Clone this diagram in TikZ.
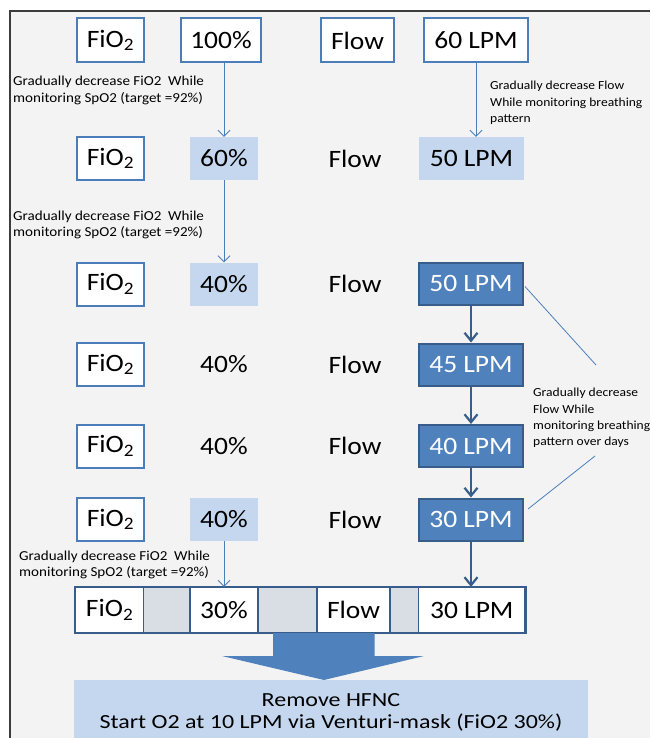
\documentclass[tikz,border=0pt]{standalone}
\usepackage{fontspec}
\setmainfont{Carlito}[FakeStretch=1.1]
\newfontfamily\widefont{Carlito}[FakeStretch=1.2]
\usetikzlibrary{arrows.meta}

\definecolor{boxblue}{HTML}{4A7EBB}
\definecolor{darkblue}{HTML}{385D8A}
\definecolor{midblue}{HTML}{4F81BD}
\definecolor{lightblue}{HTML}{C4D7EF}
\definecolor{cellgray}{HTML}{D9DEE5}
\definecolor{bggray}{HTML}{F3F3F3}
\definecolor{framegray}{HTML}{3C3C3C}

\begin{document}
\begin{tikzpicture}[x=1pt, y=-1pt,
        whitebox/.style={draw=boxblue, line width=2pt, fill=white, inner sep=0pt,
            minimum height=43pt, font=\fontsize{25}{28}\selectfont},
        lightbox/.style={fill=lightblue, inner sep=0pt, minimum width=68pt,
            minimum height=43pt, font=\fontsize{25}{28}\selectfont},
        darkbox/.style={draw=darkblue, line width=2pt, fill=midblue, text=white, inner sep=0pt,
            minimum width=104pt, minimum height=42pt, font=\fontsize{25}{28}\selectfont},
        plain/.style={inner sep=0pt, minimum width=68pt, minimum height=43pt,
            font=\fontsize{25}{28}\selectfont},
        cell/.style={draw=darkblue, line width=1.2pt, inner sep=0pt, minimum height=45pt,
            font=\fontsize{25}{28}\selectfont},
        note/.style={align=left, inner sep=0pt, anchor=west, font=\fontsize{13.7}{16.5}\selectfont},
        sidenote/.style={note, font=\fontsize{12.3}{16.3}\selectfont},
        thinarrow/.style={boxblue, line width=0.9pt, -{Straight Barb[length=6pt,width=12pt]}},
        thickarrow/.style={darkblue, line width=2.2pt, -{Straight Barb[length=8pt,width=13pt]}}]
        \useasboundingbox (0,0) rectangle (650,738);
        % ==== BACKGROUND AND FRAME ====
        \fill[white] (0,0) rectangle (650,738);
        \fill[bggray] (10,11) rectangle (650,738);
        \draw[framegray, line width=1.5pt] (10,738) -- (10,11) -- (650,11);
        % ==== ROW 1 ====
        \node[whitebox, minimum width=67pt, minimum height=44pt] (fio1) at (110.5,40.5) {FiO\textsubscript{2}};
        \node[whitebox, minimum width=80pt, minimum height=44pt] (pct1) at (221,40.5) {100\%};
        \node[whitebox, minimum width=73pt, minimum height=44pt] (flow1) at (357.5,40.5) {Flow};
        \node[whitebox, minimum width=104pt, minimum height=44pt] (lpm1) at (476,40.5) {60 LPM};
        % ==== ROW 2 ====
        \node[whitebox, minimum width=67pt] (fio2) at (110.5,158.5) {FiO\textsubscript{2}};
        \node[lightbox] (pct2) at (224,158.5) {60\%};
        \node[plain] (flow2) at (355,158.5) {Flow};
        \node[lightbox, minimum width=105pt] (lpm2) at (471.5,158.5) {50 LPM};
        % ==== ROWS 3 TO 6 ====
        \node[whitebox, minimum width=67pt] (fio3) at (110.5,284) {FiO\textsubscript{2}};
        \node[lightbox] (pct3) at (224,284) {40\%};
        \node[plain] (flow3) at (355,284) {Flow};
        \node[darkbox] (lpm3) at (471,283.5) {50 LPM};
        \node[whitebox, minimum width=67pt] (fio4) at (110.5,364.5) {FiO\textsubscript{2}};
        \node[plain] (pct4) at (224,364.5) {40\%};
        \node[plain] (flow4) at (355,364.5) {Flow};
        \node[darkbox] (lpm4) at (471,364.5) {45 LPM};
        \node[whitebox, minimum width=67pt] (fio5) at (110.5,446) {FiO\textsubscript{2}};
        \node[plain] (pct5) at (224,446) {40\%};
        \node[plain] (flow5) at (355,446) {Flow};
        \node[darkbox] (lpm5) at (471,446) {40 LPM};
        \node[whitebox, minimum width=67pt] (fio6) at (110.5,519.5) {FiO\textsubscript{2}};
        \node[lightbox] (pct6) at (224,519.5) {40\%};
        \node[plain] (flow6) at (355,519.5) {Flow};
        \node[darkbox] (lpm6) at (471,519.5) {30 LPM};
        % ==== FINAL ROW ====
        \node[cell, fill=white, minimum width=68.3pt] (b1) at (109.7,610) {FiO\textsubscript{2}};
        \node[cell, fill=cellgray, minimum width=46.2pt] (b2) at (166.9,610) {};
        \node[cell, fill=white, minimum width=68pt] (b3) at (224,610) {30\%};
        \node[cell, fill=cellgray, minimum width=59pt] (b4) at (287.5,610) {};
        \node[cell, fill=white, minimum width=73pt] (b5) at (353.5,610) {Flow};
        \node[cell, fill=cellgray, minimum width=28.6pt] (b6) at (404.3,610) {};
        \node[cell, fill=white, minimum width=106.4pt] (b7) at (471.8,610) {30 LPM};
        \draw[darkblue, line width=2.5pt] (b1.north west) rectangle (b7.south east);
        % ==== NOTES ====
        \node[note] (n1) at (13,90.5) {Gradually decrease FiO2~ While\\monitoring SpO2 (target =92\%)};
        \node[note] (n2) at (13,225) {Gradually decrease FiO2~ While\\monitoring SpO2 (target =92\%)};
        \node[note] (n3) at (19,565) {Gradually decrease FiO2~ While\\monitoring SpO2 (target =92\%)};
        \node[sidenote] (n4) at (490,103) {Gradually decrease Flow\\While monitoring breathing\\pattern};
        \node[sidenote] (n5) at (533,418) {Gradually decrease\\Flow While\\monitoring breathing\\pattern over days};
        % ==== ARROWS ====
        \draw[thinarrow] (pct1.south -| pct2.north) -- (pct2.north);
        \draw[thinarrow] (lpm1.south) -- (lpm1.south |- lpm2.north);
        \draw[thinarrow] (pct2.south) -- (pct3.north);
        \draw[thinarrow] (pct6.south) -- (pct6.south |- b3.north);
        \draw[thickarrow] (lpm3.south) -- (lpm4.north);
        \draw[thickarrow] (lpm4.south) -- (lpm5.north);
        \draw[thickarrow] (lpm5.south) -- (lpm6.north);
        \draw[thickarrow] (lpm6.south) -- (lpm6.south |- b7.north);
        \coordinate (c1) at (596,365);
        \coordinate (c2) at (595,456);
        \coordinate (c3) at (528,509);
        \draw[boxblue, line width=0.8pt] (lpm3.east) ++(1,3) -- (c1);
        \draw[boxblue, line width=0.8pt] (c2) -- (c3);
        % ==== BIG ARROW AND RESULT ====
        \fill[midblue] (273,633) -- (374.5,633) -- (374.5,656) -- (424,656) -- (324,680)
            -- (222,656) -- (273,656) -- cycle;
        \node[fill=lightblue, inner sep=0pt, minimum width=513.6pt, minimum height=64pt,
            anchor=north west, align=center, font=\widefont\fontsize{20}{22}\selectfont] (res) at (74,680)
            {Remove HFNC\\Start O2 at 10 LPM via Venturi-mask (FiO2 30\%)};
\end{tikzpicture}
\end{document}
